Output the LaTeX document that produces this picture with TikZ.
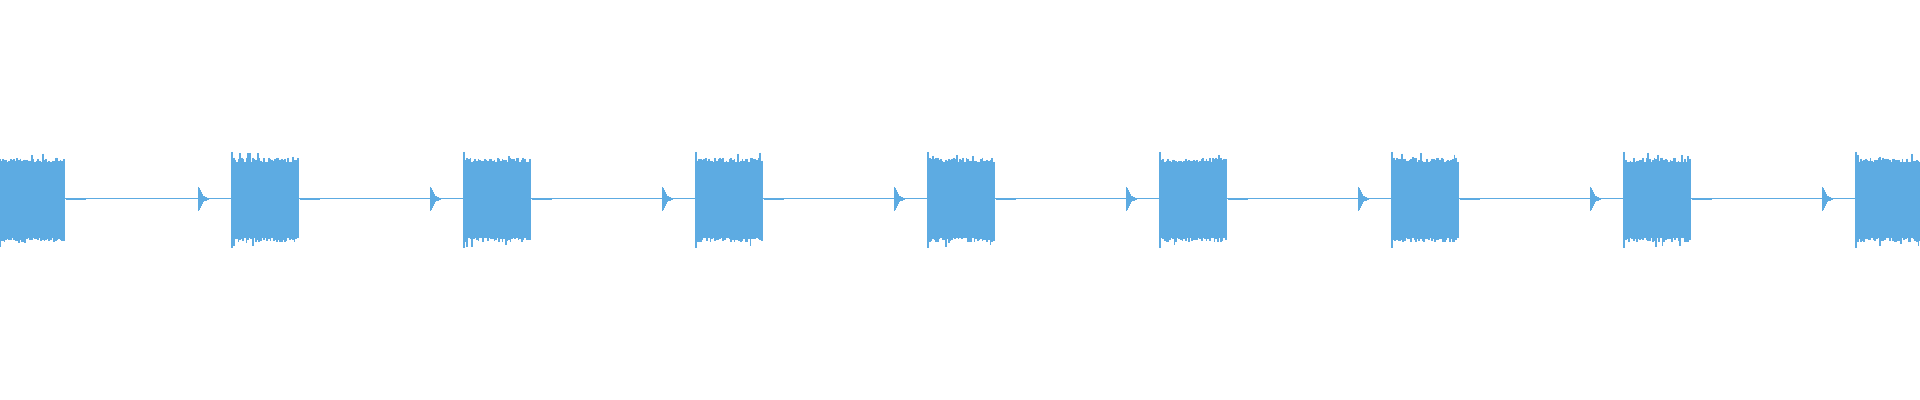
\documentclass[tikz,border=0pt]{standalone}
\begin{document}
\begin{tikzpicture}[x=0.5pt,y=-0.5pt]
\definecolor{wave}{HTML}{5DABE2}
\tikzset{samp/.style={wave,line width=0.9pt}, chirp/.style={wave,line width=0.5pt}, base/.style={wave,line width=0.5pt}}
\useasboundingbox (0,0) rectangle (1920,400);
\clip (0,0) rectangle (1920,400);
\pgfmathsetseed{7}
\draw[base] (0,199) coordinate (l) -- (1920,199) coordinate (r);
\foreach \s in {-2,232,464,696,928,1160,1392,1624,1856}{
  \foreach \i in {0,1.6,...,67}{
    \pgfmathsetmacro\ht{39+2.5*rand+ifthenelse(rnd>0.95,5,0)}
    \pgfmathsetmacro\hb{41+2.5*rand+ifthenelse(rnd>0.95,5,0)}
    \draw[samp] (\s+\i,199-\ht) -- (\s+\i,199+\hb);
  }
  \draw[samp] (\s+0.3,199-47) -- (\s+0.3,199+49);
  \fill[wave] (\s+68,198) rectangle (\s+88,200);
  \foreach \j/\a in {0/9,0.8/12,1.6/11,2.4/9,3.2/7,4/5,4.8/4,5.6/3,6.4/2.5,7.2/2,8/1.6,9/1.3,10/1.1}{
    \draw[chirp] (\s-34+\j,199-\a) -- (\s-34+\j,199+\a);
  }
}
\end{tikzpicture}
\end{document}
